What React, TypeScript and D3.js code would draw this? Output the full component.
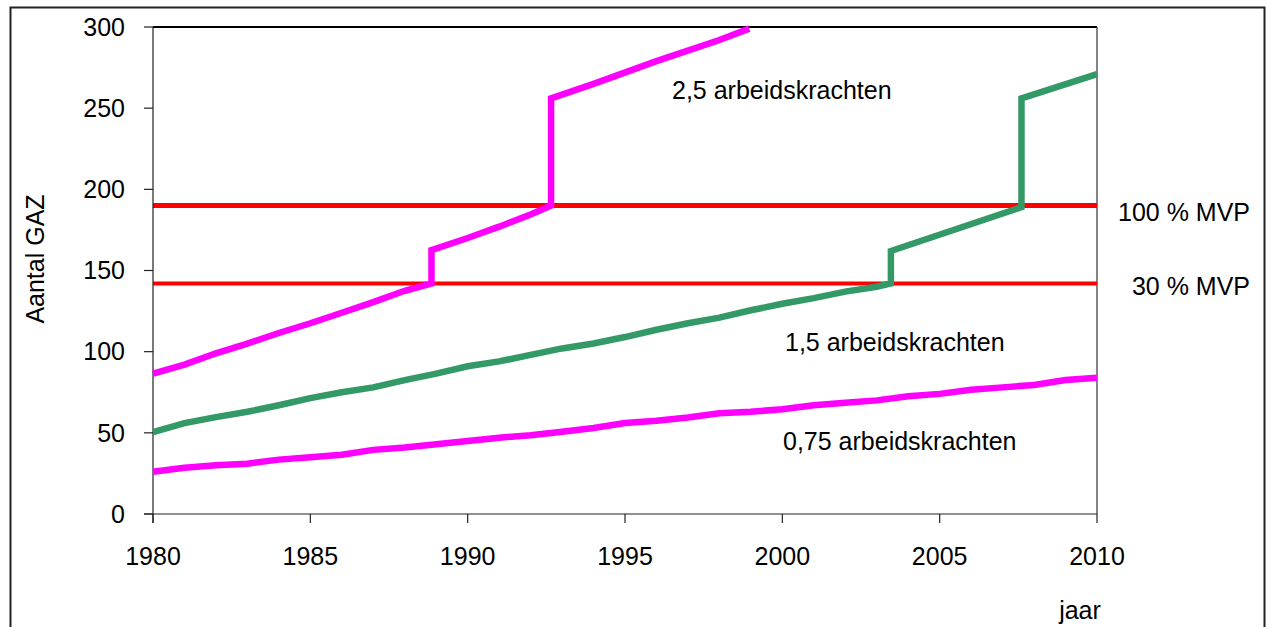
import React from "react";
import * as d3 from "d3";

const years075 = [1980, 1981, 1982, 1983, 1984, 1985, 1986, 1987, 1988, 1989, 1990, 1991, 1992, 1993, 1994, 1995, 1996, 1997, 1998, 1999, 2000, 2001, 2002, 2003, 2004, 2005, 2006, 2007, 2008, 2009, 2010];
const values075 = [26, 28.5, 30, 31, 33.5, 35, 36.5, 39.5, 41, 43, 45, 47, 48.5, 50.7, 53, 56, 57.5, 59.5, 62, 63, 64.5, 67, 68.5, 70, 72.5, 74, 76.5, 78, 79.5, 82.5, 84];

const years15 = [1980, 1981, 1982, 1983, 1984, 1985, 1986, 1987, 1988, 1989, 1990, 1991, 1992, 1993, 1994, 1995, 1996, 1997, 1998, 1999, 2000, 2001, 2002, 2003, 2003.45, 2003.45, 2007.6, 2007.6, 2010];
const values15 = [50.5, 56, 59.7, 63, 67, 71.4, 75, 78, 82.5, 86.5, 91, 94, 98, 102, 105, 109, 113.5, 117.5, 121, 125.5, 129.5, 133, 137, 140, 142, 162, 189, 256, 271];

const years25 = [1980, 1981, 1982, 1983, 1984, 1985, 1986, 1987, 1988, 1988.85, 1988.85, 1990, 1991, 1992, 1992.65, 1992.65, 1994, 1996, 1998, 1998.95];
const values25 = [86.5, 92, 99, 105, 111.5, 117.5, 124, 130.5, 137.5, 142, 162.5, 170, 177, 184.5, 190, 256, 265, 279, 292, 299];

const mvpLabels = ["100 % MVP", "30 % MVP"];
const mvpValues = [190, 142];

const yTicks = [0, 50, 100, 150, 200, 250, 300];
const xTicks = [1980, 1985, 1990, 1995, 2000, 2005, 2010];

const W = 1267;
const H = 627;
const PL = 153, PR = 1097, PT = 27, PB = 514;

const x = d3.scaleLinear().domain([1980, 2010]).range([PL, PR]);
const y = d3.scaleLinear().domain([0, 300]).range([PB, PT]);

const line = d3
  .line<[number, number]>()
  .x((d) => x(d[0]))
  .y((d) => y(d[1]))
  .curve(d3.curveLinear);

const zip = (a: number[], b: number[]): [number, number][] => a.map((v, i) => [v, b[i]]);

const FONT = "'Liberation Sans', Arial, sans-serif";
const FS = 25;

export default function App() {
  const seriesStyle = { fill: "none", strokeWidth: 6.5, strokeLinejoin: "miter" as const, strokeLinecap: "butt" as const };
  return (
    <svg width={W} height={H} style={{ position: "absolute", left: 0, top: 0, background: "#fff" }} fontFamily={FONT}>
      <rect x={0} y={0} width={W} height={H} fill="#fff" />
      {/* outer frame */}
      <rect x={10.5} y={7.5} width={1254} height={700} fill="none" stroke="#222" strokeWidth={2} />
      {/* plot area border */}
      <line x1={PL} x2={PR} y1={PT} y2={PT} stroke="#000" strokeWidth={2} />
      <line x1={PR} x2={PR} y1={PT} y2={PB} stroke="#333" strokeWidth={1.2} />
      {/* MVP lines */}
      {mvpValues.map((v, i) => (
        <line key={i} x1={PL} x2={PR} y1={y(v)} y2={y(v)} stroke="#ff0000" strokeWidth={i === 0 ? 5 : 4} />
      ))}
      {/* axes */}
      <line x1={PL} x2={PL} y1={PT} y2={PB + 9} stroke="#222" strokeWidth={1.2} />
      <line x1={PL - 9} x2={PR} y1={PB} y2={PB} stroke="#222" strokeWidth={1.2} />
      {yTicks.map((t) => (
        <g key={t}>
          <line x1={PL - 9} x2={PL} y1={y(t)} y2={y(t)} stroke="#222" strokeWidth={1.2} />
          <text x={125} y={y(t)} dy="0.35em" textAnchor="end" fontSize={FS} fill="#000">
            {t}
          </text>
        </g>
      ))}
      {xTicks.map((t) => (
        <g key={t}>
          <line x1={x(t)} x2={x(t)} y1={PB} y2={PB + 9} stroke="#222" strokeWidth={1.2} />
          <text x={x(t)} y={556} dy="0.35em" textAnchor="middle" fontSize={FS} fill="#000">
            {t}
          </text>
        </g>
      ))}
      {/* series */}
      <path d={line(zip(years075, values075)) || ""} stroke="#ff00ff" {...seriesStyle} />
      <path d={line(zip(years15, values15)) || ""} stroke="#339966" {...seriesStyle} />
      <path d={line(zip(years25, values25)) || ""} stroke="#ff00ff" {...seriesStyle} />
      {/* labels */}
      <text x={672} y={90} dy="0.35em" fontSize={FS}>2,5 arbeidskrachten</text>
      <text x={785} y={342} dy="0.35em" fontSize={FS}>1,5 arbeidskrachten</text>
      <text x={783} y={441} dy="0.35em" fontSize={FS}>0,75 arbeidskrachten</text>
      {mvpValues.map((v, i) => (
        <text key={i} x={1250} y={i === 0 ? 212 : 286} dy="0.35em" textAnchor="end" fontSize={FS}>
          {mvpLabels[i]}
        </text>
      ))}
      <text transform="translate(35,259) rotate(-90)" dy="0.35em" textAnchor="middle" fontSize={FS}>
        Aantal GAZ
      </text>
      <text x={1080} y={610} dy="0.35em" textAnchor="middle" fontSize={FS}>jaar</text>
    </svg>
  );
}
